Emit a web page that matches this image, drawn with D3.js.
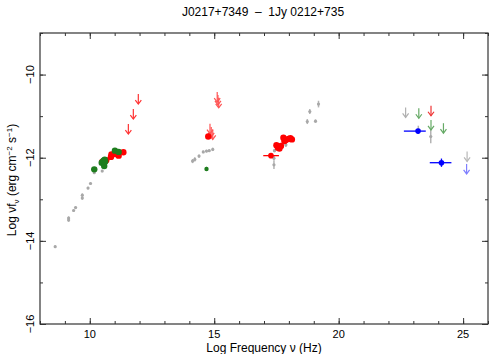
<!DOCTYPE html>
<meta charset="utf-8">
<style>
body { margin: 0; background: #fff; }
text { font-family: "Liberation Sans", Arial, sans-serif; fill: #000; white-space: pre; }
</style>
<body>
<script src="https://cdn.jsdelivr.net/npm/d3@7"></script>
<script>

var width = 490, height = 354;

// grey archival points: [logNu, logNuFnu, err]
var greyPts = [
  [8.61, -14.14, 0.03], [9.15, -13.45, 0.04], [9.15, -13.5, 0.04],
  [9.35, -13.27, 0.03], [9.43, -13.2, 0.03], [9.70, -12.97, 0.04],
  [9.70, -12.9, 0.04], [9.93, -12.73, 0.03], [10.03, -12.62, 0.03],
  [10.18, -12.36, 0.03], [10.5, -12.32, 0.03],
  [14.13, -12.08, 0.05], [14.22, -12.04, 0.05], [14.39, -11.96, 0.04],
  [14.56, -11.86, 0.03], [14.69, -11.84, 0.03], [14.80, -11.83, 0.03],
  [14.94, -11.8, 0.04],
  [17.4, -12.01, 0.06], [17.4, -12.17, 0.1], [17.42, -11.83, 0.04],
  [17.88, -11.69, 0.05],
  [18.74, -11.13, 0.06], [19.07, -11.12, 0.04], [18.84, -10.89, 0.06],
  [19.19, -10.71, 0.08],
  [23.7, -11.49, 0.16], [23.2, -11.33, 0.1]
];

var greenPts = [
  [10.18, -12.28], [10.48, -12.12], [10.55, -12.07], [10.6, -12.05],
  [10.58, -12.2], [10.62, -12.09], [11.01, -11.83], [11.16, -11.86]
];

var redPts = [
  [10.5, -12.1], [10.66, -12.06], [10.85, -11.98], [10.87, -11.92],
  [11.01, -11.91], [11.16, -11.95], [11.35, -11.87],
  [14.76, -11.49],
  [17.5, -11.7], [17.56, -11.76], [17.62, -11.78], [17.68, -11.72],
  [17.78, -11.52], [17.86, -11.58], [17.82, -11.6],
  [17.98, -11.55], [18.06, -11.53], [18.12, -11.56]
];

// points with a frequency range: [logNu, logNuFnu, nuLo, nuHi, err, colour]
var rangePts = [
  [17.28, -11.95, 16.97, 17.6, 0.03, "#ff0000"],
  [23.19, -11.36, 22.62, 23.5, 0.03, "#0000ff"],
  [24.13, -12.12, 23.66, 24.53, 0.1, "#0000ff"]
];

// upper limits: [logNu, logNuFnu, colour]
var upperLims = [
  [11.95, -10.47, "#ff3333"], [11.75, -10.83, "#ff3333"], [11.55, -11.19, "#ff3333"],
  [15.12, -10.42, "#ff5555"], [15.15, -10.49, "#ff5555"], [15.18, -10.56, "#ff5555"],
  [14.83, -11.18, "#ff5555"], [14.88, -11.26, "#ff5555"], [14.94, -11.32, "#ff5555"],
  [22.69, -10.79, "#b0b0b0"], [23.22, -10.81, "#66aa66"], [23.71, -10.75, "#ee3333"],
  [23.71, -11.09, "#66aa66"], [24.21, -11.17, "#66aa66"],
  [25.16, -11.85, "#b8b8b8"], [25.14, -12.15, "#7f7fff"]
];

var xTicks = [10, 15, 20, 25];
var yTicks = [-16, -14, -12, -10];

var x = d3.scaleLinear().domain([8, 26]).range([40, 488]);
var y = d3.scaleLinear().domain([-16, -9]).range([324, 33]);

var svg = d3.select("body").append("svg")
    .attr("width", width)
    .attr("height", height);

// title
svg.append("text")
    .attr("x", 263).attr("y", 16)
    .attr("text-anchor", "middle")
    .style("font-size", "12px")
    .text("J0217+7349  \u2013  1Jy 0212+735");

// axes with inward ticks on all four sides
function ticks(axis) {
  return function(g) {
    g.call(axis);
    g.select(".domain").remove();
    g.selectAll("line").attr("stroke", "#333");
  };
}

var minorX = d3.range(8, 27, 1), minorY = d3.range(-16, -8, 1);

svg.append("g").attr("transform", "translate(0,324)")
    .call(ticks(d3.axisTop(x).tickValues(minorX).tickSize(3).tickFormat("")));
svg.append("g").attr("transform", "translate(0,324)")
    .call(ticks(d3.axisTop(x).tickValues(xTicks).tickSize(6).tickFormat("")));
svg.append("g").attr("transform", "translate(0,33)")
    .call(ticks(d3.axisBottom(x).tickValues(minorX).tickSize(3).tickFormat("")));
svg.append("g").attr("transform", "translate(0,33)")
    .call(ticks(d3.axisBottom(x).tickValues(xTicks).tickSize(6).tickFormat("")));
svg.append("g").attr("transform", "translate(40,0)")
    .call(ticks(d3.axisRight(y).tickValues(minorY).tickSize(3).tickFormat("")));
svg.append("g").attr("transform", "translate(40,0)")
    .call(ticks(d3.axisRight(y).tickValues(yTicks).tickSize(6).tickFormat("")));
svg.append("g").attr("transform", "translate(488,0)")
    .call(ticks(d3.axisLeft(y).tickValues(minorY).tickSize(3).tickFormat("")));
svg.append("g").attr("transform", "translate(488,0)")
    .call(ticks(d3.axisLeft(y).tickValues(yTicks).tickSize(6).tickFormat("")));

svg.append("rect")
    .attr("x", 40).attr("y", 33)
    .attr("width", 448).attr("height", 291)
    .attr("fill", "none").attr("stroke", "#333").attr("stroke-width", 1.2);

// tick labels
svg.selectAll(".xl").data(xTicks).enter().append("text")
    .attr("x", function(d) { return x(d); })
    .attr("y", 338)
    .attr("text-anchor", "middle")
    .style("font-size", "11px")
    .text(function(d) { return d; });

svg.selectAll(".yl").data(yTicks).enter().append("text")
    .attr("transform", function(d) { return "translate(34," + y(d) + ") rotate(-90)"; })
    .attr("text-anchor", "middle")
    .style("font-size", "11px")
    .text(function(d) { return "\u2212" + Math.abs(d); });

// axis titles
svg.append("text")
    .attr("x", 264).attr("y", 352)
    .attr("text-anchor", "middle")
    .style("font-size", "12px")
    .text("Log Frequency \u03bd (Hz)");

var yl = svg.append("text")
    .attr("transform", "translate(16,180) rotate(-90)")
    .attr("text-anchor", "middle")
    .style("font-size", "12px");
yl.append("tspan").text("Log \u03bdf");
yl.append("tspan").attr("dy", 3).style("font-size", "8px").text("\u03bd");
yl.append("tspan").attr("dy", -3).text(" (erg cm");
yl.append("tspan").attr("dy", -4).style("font-size", "8px").text("\u22122");
yl.append("tspan").attr("dy", 4).text(" s");
yl.append("tspan").attr("dy", -4).style("font-size", "8px").text("\u22121");
yl.append("tspan").attr("dy", 4).text(")");

var plot = svg.append("g");

// grey points
plot.selectAll(".ge").data(greyPts).enter().append("line")
    .attr("x1", function(d) { return x(d[0]); })
    .attr("x2", function(d) { return x(d[0]); })
    .attr("y1", function(d) { return y(d[1] - d[2]); })
    .attr("y2", function(d) { return y(d[1] + d[2]); })
    .attr("stroke", "#b4b4b4").attr("stroke-width", 1.5);
plot.selectAll(".gp").data(greyPts).enter().append("circle")
    .attr("cx", function(d) { return x(d[0]); })
    .attr("cy", function(d) { return y(d[1]); })
    .attr("r", 1.6)
    .attr("fill", "#a8a8a8");

// upper limits as down arrows
var arr = plot.selectAll(".ul").data(upperLims).enter().append("g")
    .attr("transform", function(d) { return "translate(" + x(d[0]) + "," + y(d[1]) + ")"; })
    .attr("stroke", function(d) { return d[2]; })
    .attr("fill", "none")
    .attr("stroke-width", 1.2);
arr.append("line").attr("x1", 0).attr("x2", 0).attr("y1", 0).attr("y2", 10);
arr.append("path").attr("d", "M-3,6L0,10L3,6");

// range points
plot.selectAll(".rh").data(rangePts).enter().append("line")
    .attr("x1", function(d) { return x(d[2]); })
    .attr("x2", function(d) { return x(d[3]); })
    .attr("y1", function(d) { return y(d[1]); })
    .attr("y2", function(d) { return y(d[1]); })
    .attr("stroke", function(d) { return d[5]; }).attr("stroke-width", 1.3);
plot.selectAll(".rv").data(rangePts).enter().append("line")
    .attr("x1", function(d) { return x(d[0]); })
    .attr("x2", function(d) { return x(d[0]); })
    .attr("y1", function(d) { return y(d[1] - d[4]); })
    .attr("y2", function(d) { return y(d[1] + d[4]); })
    .attr("stroke", function(d) { return d[5]; }).attr("stroke-width", 1.3);
plot.selectAll(".rp").data(rangePts).enter().append("circle")
    .attr("cx", function(d) { return x(d[0]); })
    .attr("cy", function(d) { return y(d[1]); })
    .attr("r", 2.8)
    .attr("fill", function(d) { return d[5]; });

// red points
plot.selectAll(".rd").data(redPts).enter().append("circle")
    .attr("cx", function(d) { return x(d[0]); })
    .attr("cy", function(d) { return y(d[1]); })
    .attr("r", 3.2)
    .attr("fill", "#ff0000");

// green points
plot.selectAll(".gr").data(greenPts).enter().append("circle")
    .attr("cx", function(d) { return x(d[0]); })
    .attr("cy", function(d) { return y(d[1]); })
    .attr("r", 3.2)
    .attr("fill", "#1e7d1e");

// small green point with error bar in the optical
var greenSmall = [[14.69, -12.27, 0.05]];
plot.selectAll(".gs").data(greenSmall).enter().append("line")
    .attr("x1", function(d) { return x(d[0]); })
    .attr("x2", function(d) { return x(d[0]); })
    .attr("y1", function(d) { return y(d[1] - d[2]); })
    .attr("y2", function(d) { return y(d[1] + d[2]); })
    .attr("stroke", "#1e7d1e").attr("stroke-width", 1.3);
plot.selectAll(".gsp").data(greenSmall).enter().append("circle")
    .attr("cx", function(d) { return x(d[0]); })
    .attr("cy", function(d) { return y(d[1]); })
    .attr("r", 2.2)
    .attr("fill", "#1e7d1e");
</script>
</body>
